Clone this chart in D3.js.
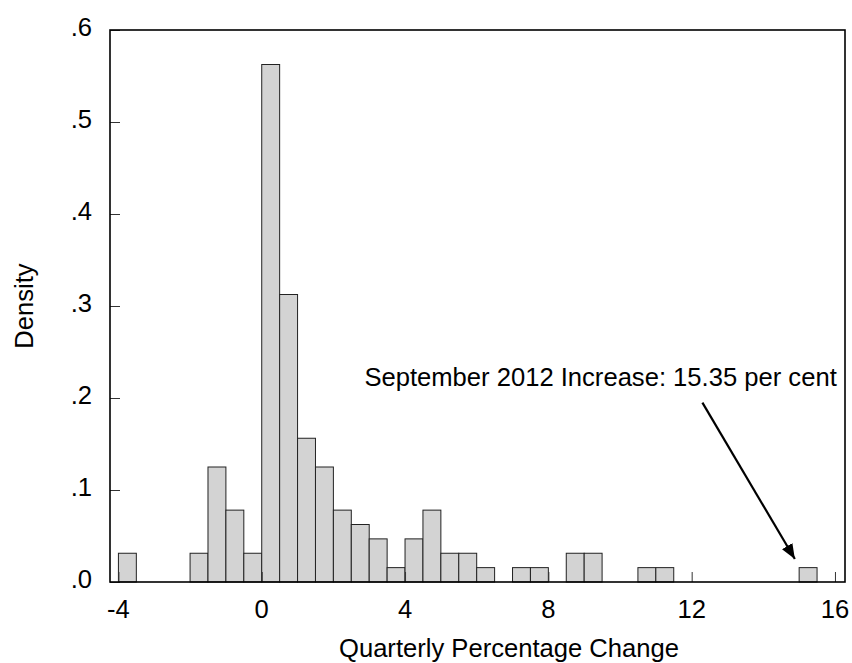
<!DOCTYPE html>
<html>
<head>
<meta charset="utf-8">
<script src="https://cdn.jsdelivr.net/npm/d3@7"></script>
<style>
body { margin: 0; background: #fff; }
text { font-family: "Liberation Sans", Arial, sans-serif; fill: #000; font-size: 25.6px; }
</style>
</head>
<body>
<div id="chart"></div>
<script>
// bin starts (width 0.5) and densities
var binStart = [-4, -3.5, -3, -2.5, -2, -1.5, -1, -0.5, 0, 0.5, 1, 1.5, 2, 2.5, 3, 3.5,
    4, 4.5, 5, 5.5, 6, 6.5, 7, 7.5, 8, 8.5, 9, 9.5, 10, 10.5, 11, 11.5, 12, 12.5,
    13, 13.5, 14, 14.5, 15];
var density = [0.03125, 0, 0, 0, 0.03125, 0.125, 0.078125, 0.03125, 0.5625, 0.3125,
    0.15625, 0.125, 0.078125, 0.0625, 0.046875, 0.015625, 0.046875, 0.078125, 0.03125,
    0.03125, 0.015625, 0, 0.015625, 0.015625, 0, 0.03125, 0.03125, 0, 0, 0.015625,
    0.015625, 0, 0, 0, 0, 0, 0, 0, 0.015625];
var binWidth = 0.5;
var xTicks = [-4, 0, 4, 8, 12, 16];
var yTicks = [0, 0.1, 0.2, 0.3, 0.4, 0.5, 0.6];
var yTickLabels = ['.0', '.1', '.2', '.3', '.4', '.5', '.6'];
var note = 'September 2012 Increase: 15.35 per cent';

var W = 852, H = 663;
var margin = {left: 110, right: 7, top: 30, bottom: 81};
var w = W - margin.left - margin.right, h = H - margin.top - margin.bottom;

var svg = d3.select('#chart').append('svg')
    .attr('width', W).attr('height', H);

svg.append('defs').append('marker')
    .attr('id', 'arrow')
    .attr('viewBox', '0 0 10 10')
    .attr('refX', 10).attr('refY', 5)
    .attr('markerWidth', 15).attr('markerHeight', 15)
    .attr('markerUnits', 'userSpaceOnUse')
    .attr('orient', 'auto')
    .append('path').attr('d', 'M0,1L10,5L0,9Z').attr('fill', '#000');

var g = svg.append('g').attr('transform', 'translate(' + margin.left + ',' + margin.top + ')');

var x = d3.scaleLinear().domain([-4.235, 16.28]).range([0, w]);
var y = d3.scaleLinear().domain([0, 0.6]).range([h, 0]);

var bins = binStart.map(function(s, i){ return {x0: s, d: density[i]}; });

g.selectAll('rect.bar')
    .data(bins.filter(function(b){ return b.d > 0; }))
    .enter().append('rect')
    .classed('bar', true)
    .attr('x', function(b){ return x(b.x0); })
    .attr('width', function(b){ return x(b.x0 + binWidth) - x(b.x0); })
    .attr('y', function(b){ return y(b.d); })
    .attr('height', function(b){ return y(0) - y(b.d); })
    .attr('fill', '#d3d3d3')
    .attr('stroke', '#222')
    .attr('stroke-width', 1);

// inside ticks
var xAxis = d3.axisTop(x).tickValues(xTicks).tickSize(10).tickFormat('');
g.append('g').attr('transform', 'translate(0,' + h + ')').call(xAxis)
    .call(function(s){ s.select('.domain').remove(); s.selectAll('line').attr('stroke', '#333'); });
var yAxis = d3.axisRight(y).tickValues(yTicks).tickSize(10).tickFormat('');
g.append('g').call(yAxis)
    .call(function(s){ s.select('.domain').remove(); s.selectAll('line').attr('stroke', '#333'); });

// frame
g.append('rect').attr('x', 0).attr('y', 0).attr('width', w).attr('height', h)
    .attr('fill', 'none').attr('stroke', '#000').attr('stroke-width', 1.6);

// tick labels
g.selectAll('text.xl').data(xTicks).enter().append('text')
    .attr('x', function(d){ return x(d); })
    .attr('y', h + 36)
    .attr('text-anchor', 'middle')
    .text(function(d){ return d; });
g.selectAll('text.yl').data(yTicks).enter().append('text')
    .attr('x', -18)
    .attr('y', function(d){ return y(d) + 6; })
    .attr('text-anchor', 'end')
    .text(function(d, i){ return yTickLabels[i]; });

// axis titles
svg.append('text')
    .attr('x', 509).attr('y', 657)
    .attr('text-anchor', 'middle')
    .text('Quarterly Percentage Change');
svg.append('text')
    .attr('transform', 'translate(33,' + (margin.top + h / 2) + ') rotate(-90)')
    .attr('text-anchor', 'middle')
    .text('Density');

// annotation
g.append('text')
    .attr('x', x(16.05)).attr('y', y(0.213))
    .attr('text-anchor', 'end')
    .text(note);
g.append('line')
    .attr('x1', x(12.3)).attr('y1', y(0.195))
    .attr('x2', x(14.88)).attr('y2', y(0.025))
    .attr('stroke', '#000').attr('stroke-width', 2.2)
    .attr('marker-end', 'url(#arrow)');
</script>
</body>
</html>
